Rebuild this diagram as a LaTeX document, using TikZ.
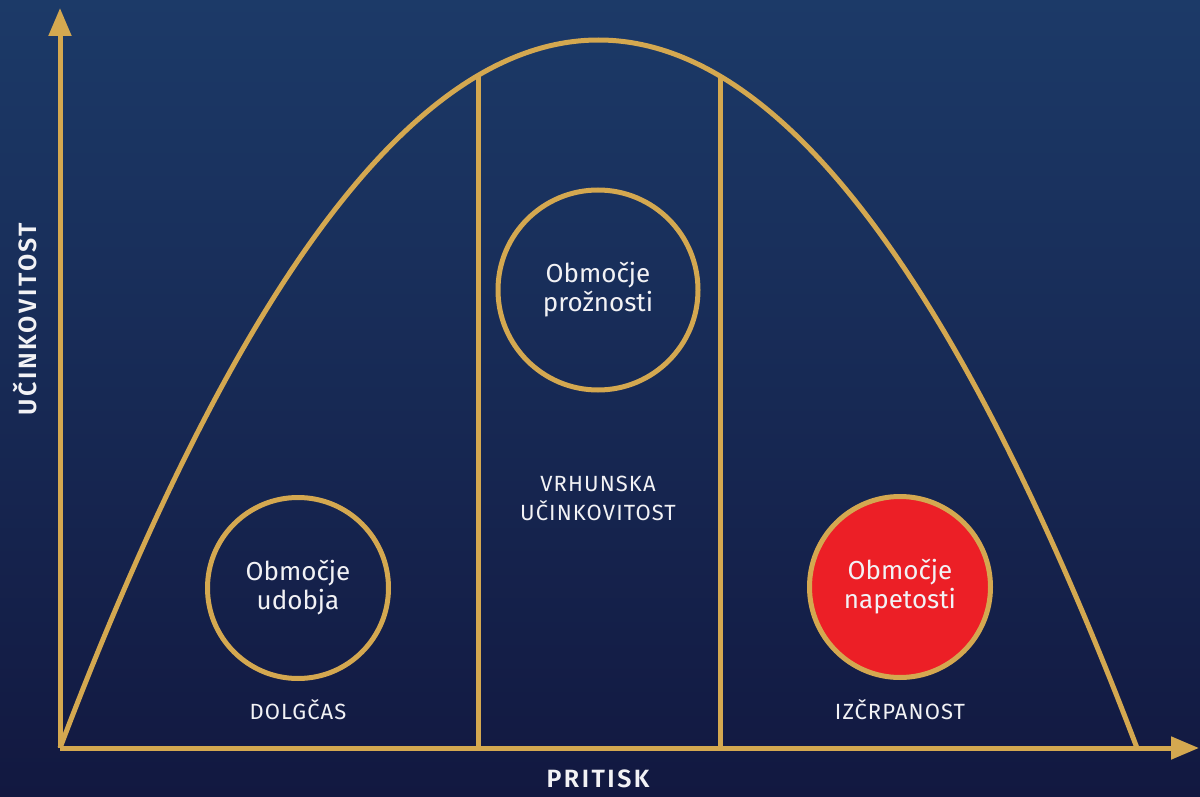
\documentclass[tikz,border=0pt]{standalone}
\usepackage{fontspec}
\setmainfont{Fira Sans}
\newfontfamily\capsfont[LetterSpace=5]{Fira Sans}
\newfontfamily\axisfont[LetterSpace=10]{Fira Sans SemiBold}
\usetikzlibrary{arrows.meta}
\definecolor{gold}{RGB}{212,168,80}
\definecolor{bgtop}{RGB}{28,58,104}
\definecolor{bgbot}{RGB}{18,24,64}
\definecolor{hot}{RGB}{236,31,38}
\definecolor{txt}{RGB}{242,242,245}
\begin{document}
\begin{tikzpicture}[x=1pt,y=-1pt,
  goldline/.style={draw=gold,line width=5pt},
  zone/.style={circle,draw=gold,line width=5pt,minimum size=#1,inner sep=0pt,
    text=txt,font=\fontsize{26}{29}\selectfont,align=center},
  lbl/.style={text=txt,font=\capsfont\fontsize{22}{29}\selectfont,align=center},
  axlbl/.style={text=txt,font=\axisfont\fontsize{25}{29}\selectfont}]
\shade[top color=bgtop,bottom color=bgbot] (0,0) rectangle (1200,797);
\useasboundingbox (0,0) rectangle (1200,797);
% axes
\coordinate (O) at (60,748);
\coordinate (ytip) at (60,8);
\coordinate (xtip) at (1199,748);
\draw[goldline,-{Triangle[length=28pt,width=22pt]}] (O) -- (ytip);
\draw[goldline,-{Triangle[length=28pt,width=22pt]}] (O) -- (xtip);
% curve
\coordinate (cend) at (1137,748);
\draw[goldline,line join=round] (O) .. controls (419,-196) and (778,-196) .. (cend);
% vertical separators
\coordinate (l1t) at (478,76);
\coordinate (l1b) at (478,748);
\coordinate (l2t) at (720,77);
\coordinate (l2b) at (720,748);
\draw[goldline] (l1t) -- (l1b);
\draw[goldline] (l2t) -- (l2b);
% zones
\node[zone=181pt] (comfort) at (298,588) {Območje\\udobja};
\node[zone=200pt] (stretch) at (598,290) {Območje\\prožnosti};
\node[zone=181pt,fill=hot] (stress) at (900,587) {Območje\\napetosti};
% labels
\node[lbl] (boredom) at (298,710) {DOLGČAS};
\node[lbl] (peak) at (598,498) {VRHUNSKA\\UČINKOVITOST};
\node[lbl] (exhaust) at (900,710) {IZČRPANOST};
\node[axlbl] (xlab) at (598,779) {PRITISK};
\node[axlbl,rotate=90] (ylab) at (25,319) {UČINKOVITOST};
\end{tikzpicture}
\end{document}
